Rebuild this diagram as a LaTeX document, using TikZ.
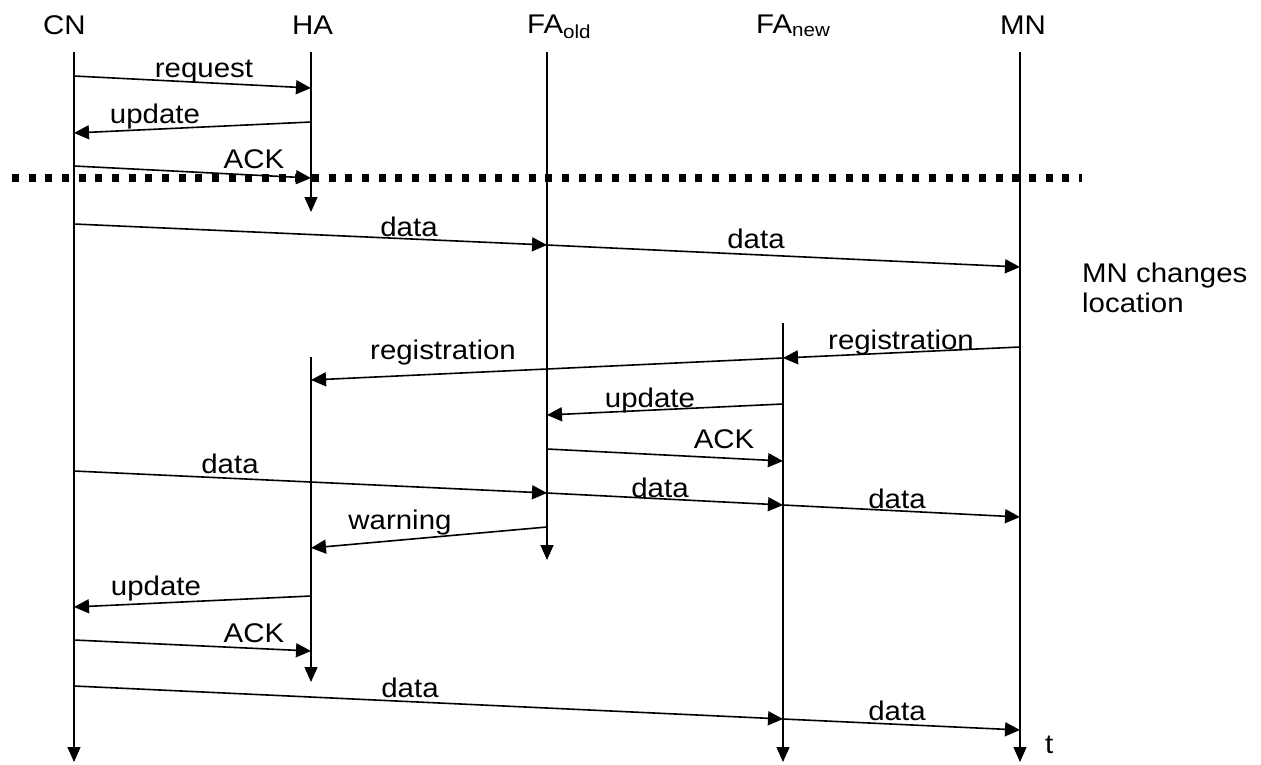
\documentclass[tikz,border=0pt]{standalone}
\usepackage{fontspec}
\setmainfont{Liberation Sans}[FakeStretch=1.09]
\usetikzlibrary{arrows.meta}
\tikzset{
  txt/.style={inner sep=0pt, font=\fontsize{27}{31}\selectfont},
  hdr/.style={txt, anchor=base west},
  lbl/.style={txt, anchor=base},
  life/.style={line width=1.3pt, -{Triangle[length=15pt,width=13pt]}},
  msg/.style={line width=1.6pt, -{Triangle[length=15pt,width=14pt]}},
  sep/.style={line width=8pt, dash pattern=on 7pt off 9.67pt}
}
\begin{document}
\begin{tikzpicture}[x=1pt,y=-1pt]
\useasboundingbox (0,0) rectangle (1261,764);
% headers
\node[hdr] (CN) at (43,34) {CN};
\node[hdr] (HA) at (292,34) {HA};
\node[hdr] (FAo) at (527,33) {FA\textsubscript{old}};
\node[hdr] (FAn) at (756,33) {FA\textsubscript{new}};
\node[hdr] (MN) at (1000,34) {MN};
% lifelines
\coordinate (CNt) at (74,52);   \coordinate (CNb) at (74,762);
\coordinate (HAt) at (311,52);  \coordinate (HAb) at (311,212);
\coordinate (HAt2) at (311,357); \coordinate (HAb2) at (311,682);
\coordinate (FAot) at (547,52); \coordinate (FAob) at (547,560);
\coordinate (FAnt) at (783,323); \coordinate (FAnb) at (783,762);
\coordinate (MNt) at (1020,52); \coordinate (MNb) at (1020,762);
\draw[life] (CNt) -- (CNb);
\draw[life] (HAt) -- (HAb);
\draw[life] (HAt2) -- (HAb2);
\draw[life] (FAot) -- (FAob);
\draw[life] (FAnt) -- (FAnb);
\draw[life] (MNt) -- (MNb);
% messages
\coordinate (a1) at (74,76);   \coordinate (b1) at (311,88);
\draw[msg] (a1) -- (b1);  \node[lbl] (t1) at (204,77) {request};
\coordinate (a2) at (311,122); \coordinate (b2) at (74,133);
\draw[msg] (a2) -- (b2);  \node[lbl] (t2) at (155,123) {update};
\coordinate (a3) at (74,166);  \coordinate (b3) at (311,178);
\draw[msg] (a3) -- (b3);  \node[lbl] (t3) at (254,168) {ACK};
\coordinate (a4) at (74,224);  \coordinate (b4) at (547,245);
\draw[msg] (a4) -- (b4);  \node[lbl] (t4) at (409,236) {data};
\coordinate (b5) at (1020,267);
\draw[msg] (b4) -- (b5);  \node[lbl] (t5) at (756,248) {data};
\coordinate (a6) at (1020,347); \coordinate (b6) at (783,358);
\draw[msg] (a6) -- (b6);  \node[lbl] (t6) at (901,349) {registration};
\coordinate (b7) at (311,380);
\draw[msg] (b6) -- (b7);  \node[lbl] (t7) at (443,359) {registration};
\coordinate (a8) at (783,404); \coordinate (b8) at (547,415);
\draw[msg] (a8) -- (b8);  \node[lbl] (t8) at (650,407) {update};
\coordinate (a9) at (547,449); \coordinate (b9) at (783,461);
\draw[msg] (a9) -- (b9);  \node[lbl] (t9) at (724,448) {ACK};
\coordinate (a10) at (74,471); \coordinate (b10) at (547,493);
\draw[msg] (a10) -- (b10); \node[lbl] (t10) at (230,473) {data};
\coordinate (b11) at (783,505);
\draw[msg] (b10) -- (b11); \node[lbl] (t11) at (660,497) {data};
\coordinate (b12) at (1020,517);
\draw[msg] (b11) -- (b12); \node[lbl] (t12) at (897,508) {data};
\coordinate (a13) at (547,527); \coordinate (b13) at (311,548);
\draw[msg] (a13) -- (b13); \node[lbl] (t13) at (400,529) {warning};
\coordinate (a14) at (311,596); \coordinate (b14) at (74,607);
\draw[msg] (a14) -- (b14); \node[lbl] (t14) at (156,595) {update};
\coordinate (a15) at (74,640); \coordinate (b15) at (311,651);
\draw[msg] (a15) -- (b15); \node[lbl] (t15) at (254,642) {ACK};
\coordinate (a16) at (74,686); \coordinate (b16) at (783,719);
\draw[msg] (a16) -- (b16); \node[lbl] (t16) at (410,697) {data};
\coordinate (b17) at (1020,730);
\draw[msg] (b16) -- (b17); \node[lbl] (t17) at (897,720) {data};
% separator
\coordinate (s1) at (12,178); \coordinate (s2) at (1082,178);
\draw[sep] (s1) -- (s2);
% notes
\node[hdr] (note1) at (1082,282) {MN changes};
\node[hdr] (note2) at (1082,312) {location};
\node[hdr] (tlabel) at (1045,753) {t};
\end{tikzpicture}
\end{document}
